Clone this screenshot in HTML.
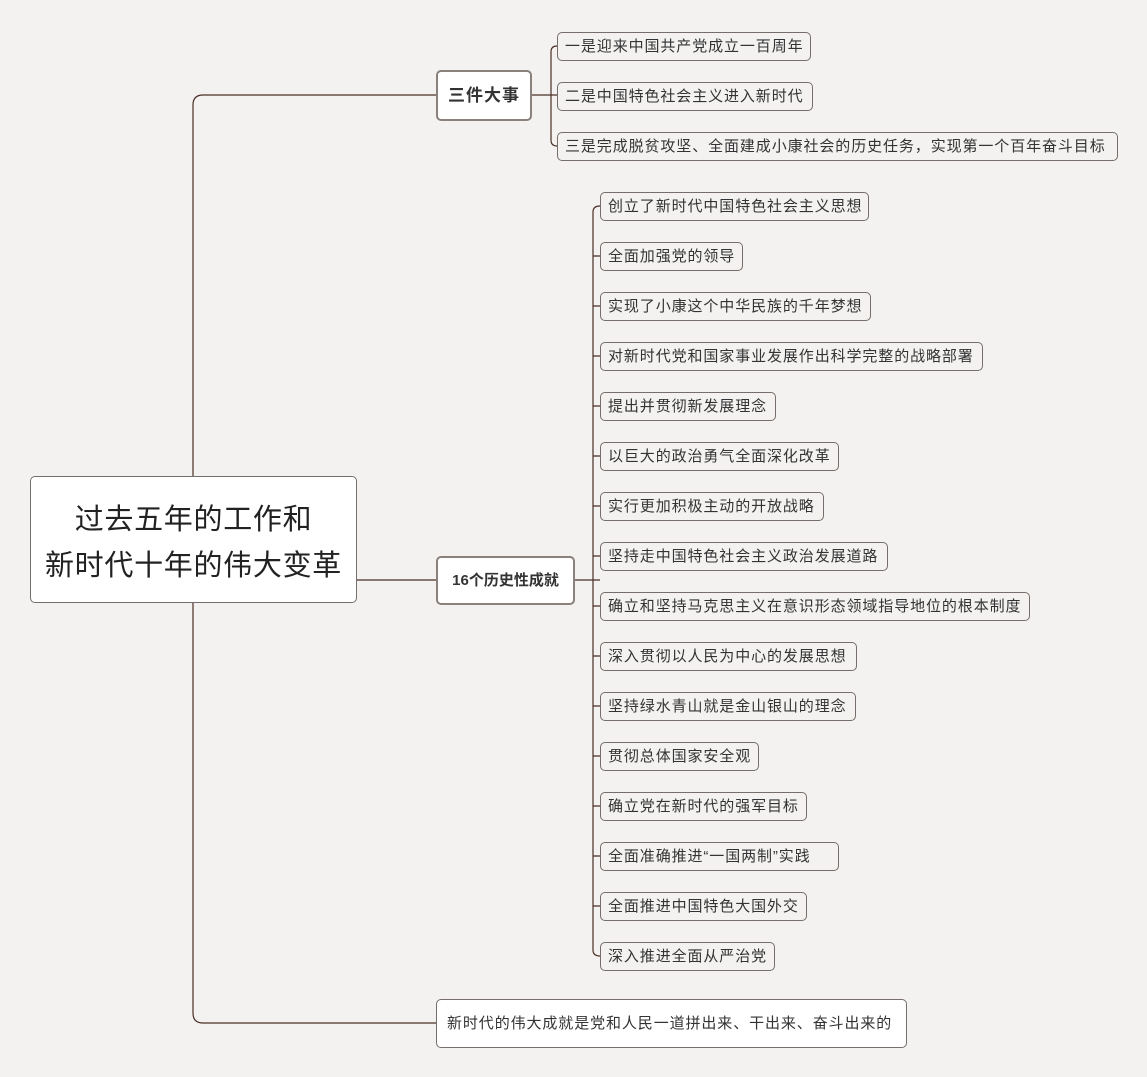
<!DOCTYPE html>
<html><head><meta charset="utf-8"><style>
body{margin:0;width:1147px;height:1077px;background:#f3f2f1;position:relative;overflow:hidden;font-family:"Liberation Sans","Noto Sans CJK SC",sans-serif;}
.b{position:absolute;box-sizing:border-box;border:1px solid #756e6a;border-radius:5px;color:#333;white-space:nowrap;}
.l{height:29px;line-height:27px;font-size:15px;letter-spacing:0.9px;padding-left:7px;background:#f3f2f1;}
.t{background:#fff;font-weight:bold;font-size:14px;text-align:center;border:2px solid #8a817c;}
svg{position:absolute;left:0;top:0;}
</style></head><body>
<svg width="1147" height="1077" fill="none" stroke="#4a2f26" stroke-width="1.2">
<path d="M436 95 H203 Q193 95 193 105 V1013 Q193 1023 203 1023 H436"/>
<path d="M356 580 H436"/>
<path d="M531 95 H557"/>
<path d="M557 46 Q551 46 551 52 V140 Q551 146 557 146"/>
<path d="M574 580 H600"/>
<path d="M600 206 Q593 206 593 212 V950 Q593 956 600 956"/>
<g>
<path d="M593 256H600M593 306H600M593 356H600M593 406H600M593 456H600M593 506H600M593 556H600M593 606H600M593 656H600M593 706H600M593 756H600M593 806H600M593 856H600M593 906H600"/>
</g>
</svg>
<div class="b" style="left:30px;top:476px;width:327px;height:127px;background:#fff;font-size:29px;letter-spacing:0.7px;line-height:46px;text-align:center;padding-top:20px;color:#222;">过去五年的工作和<br>新时代十年的伟大变革</div>
<div class="t b" style="left:436px;top:70px;width:96px;height:51px;line-height:47px;font-size:17px;letter-spacing:1px;">三件大事</div>
<div class="t b" style="left:436px;top:556px;width:139px;height:49px;line-height:45px;font-size:15px;">16个历史性成就</div>
<div class="b" style="left:436px;top:999px;width:471px;height:49px;line-height:47px;font-size:15px;letter-spacing:0.9px;padding-left:10px;background:#fff;">新时代的伟大成就是党和人民一道拼出来、干出来、奋斗出来的</div>
<div class="b l" style="left:557px;top:32px;width:254px">一是迎来中国共产党成立一百周年</div>
<div class="b l" style="left:557px;top:82px;width:256px">二是中国特色社会主义进入新时代</div>
<div class="b l" style="left:557px;top:132px;width:561px">三是完成脱贫攻坚、全面建成小康社会的历史任务，实现第一个百年奋斗目标</div>
<div class="b l" style="left:600px;top:192px;width:269px">创立了新时代中国特色社会主义思想</div>
<div class="b l" style="left:600px;top:242px;width:143px">全面加强党的领导</div>
<div class="b l" style="left:600px;top:292px;width:271px">实现了小康这个中华民族的千年梦想</div>
<div class="b l" style="left:600px;top:342px;width:383px">对新时代党和国家事业发展作出科学完整的战略部署</div>
<div class="b l" style="left:600px;top:392px;width:176px">提出并贯彻新发展理念</div>
<div class="b l" style="left:600px;top:442px;width:239px">以巨大的政治勇气全面深化改革</div>
<div class="b l" style="left:600px;top:492px;width:224px">实行更加积极主动的开放战略</div>
<div class="b l" style="left:600px;top:542px;width:288px">坚持走中国特色社会主义政治发展道路</div>
<div class="b l" style="left:600px;top:592px;width:430px">确立和坚持马克思主义在意识形态领域指导地位的根本制度</div>
<div class="b l" style="left:600px;top:642px;width:257px">深入贯彻以人民为中心的发展思想</div>
<div class="b l" style="left:600px;top:692px;width:256px">坚持绿水青山就是金山银山的理念</div>
<div class="b l" style="left:600px;top:742px;width:159px">贯彻总体国家安全观</div>
<div class="b l" style="left:600px;top:792px;width:207px">确立党在新时代的强军目标</div>
<div class="b l" style="left:600px;top:842px;width:239px">全面准确推进“一国两制”实践</div>
<div class="b l" style="left:600px;top:892px;width:207px">全面推进中国特色大国外交</div>
<div class="b l" style="left:600px;top:942px;width:175px">深入推进全面从严治党</div>
</body></html>
